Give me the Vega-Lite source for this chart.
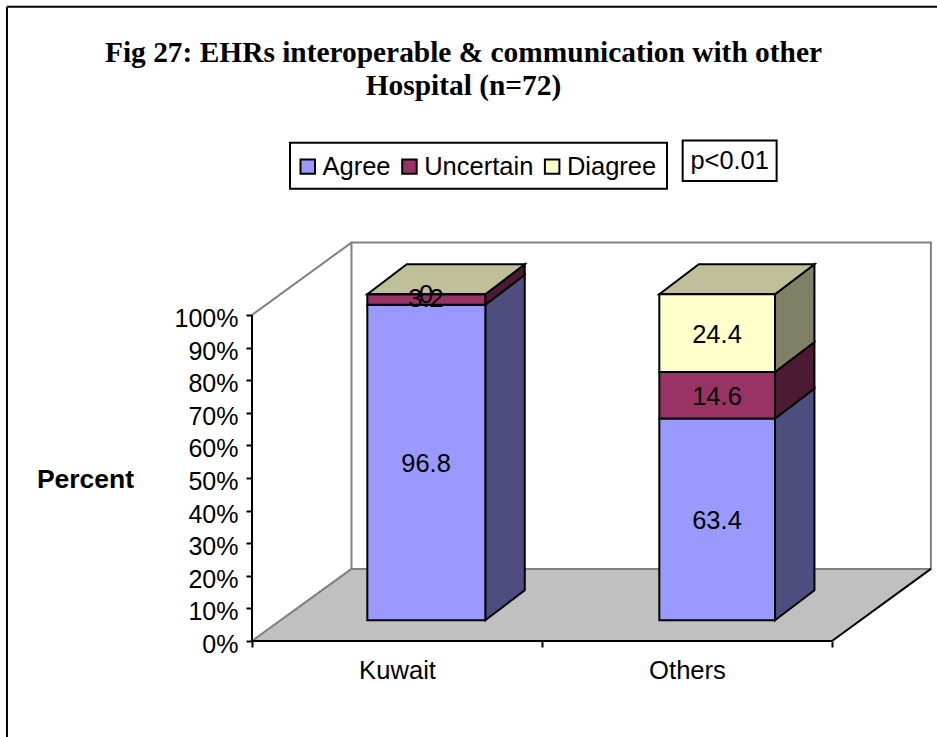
{"$schema":"https://vega.github.io/schema/vega-lite/v6.json","width":937,"height":737,"autosize":"none","padding":0,"background":"white","view":{"stroke":null},
"title":{"text":["Fig 27: EHRs interoperable & communication with other","Hospital (n=72)"],"font":"Liberation Serif","fontSize":29.4,"fontWeight":"bold","color":"black","anchor":"middle","baseline":"alphabetic","dx":-5,"dy":124,"offset":0,"lineHeight":33},
"datasets":{
"wall":[{"x":0.343,"x2":2.341,"low":22.1,"high":122.2}],
"floor":[{"level":0,"x":0,"x2":2},{"level":22.1,"x":0.343,"x2":2.341}],
"leftEdge":[{"edge":"floor","x":0,"y":0},{"edge":"floor","x":0.343,"y":22.1},{"edge":"top","x":0,"y":100},{"edge":"top","x":0.343,"y":122.2}],
"rightEdge":[{"x":2,"y":0},{"x":2.341,"y":22.1}],
"axisLines":[{"x":0,"x2":0,"y":0,"y2":100},{"x":0,"x2":2,"y":0,"y2":0}],
"front":[
{"category":"Kuwait","series":"Agree","x":0.3976,"x2":0.8045,"low":6.35,"high":103.15},
{"category":"Kuwait","series":"Uncertain","x":0.3976,"x2":0.8045,"low":103.15,"high":106.35},
{"category":"Kuwait","series":"Diagree","x":0.3976,"x2":0.8045,"low":106.35,"high":106.35},
{"category":"Others","series":"Agree","x":1.4045,"x2":1.8034,"low":6.35,"high":68.25},
{"category":"Others","series":"Uncertain","x":1.4045,"x2":1.8034,"low":68.25,"high":82.51},
{"category":"Others","series":"Diagree","x":1.4045,"x2":1.8034,"low":82.51,"high":106.35}],
"side":[
{"face":"K-A","series":"Agree","x":0.8045,"low":6.35,"high":103.15},{"face":"K-A","series":"Agree","x":0.9405,"low":15.55,"high":112.35},
{"face":"K-U","series":"Uncertain","x":0.8045,"low":103.15,"high":106.35},{"face":"K-U","series":"Uncertain","x":0.9405,"low":112.35,"high":115.55},
{"face":"O-A","series":"Agree","x":1.8034,"low":6.35,"high":68.25},{"face":"O-A","series":"Agree","x":1.9394,"low":15.55,"high":77.45},
{"face":"O-U","series":"Uncertain","x":1.8034,"low":68.25,"high":82.51},{"face":"O-U","series":"Uncertain","x":1.9394,"low":77.45,"high":91.71},
{"face":"O-D","series":"Diagree","x":1.8034,"low":82.51,"high":106.35},{"face":"O-D","series":"Diagree","x":1.9394,"low":91.71,"high":115.55}],
"top":[
{"category":"Kuwait","level":106.35,"x":0.3976,"x2":0.8045},{"category":"Kuwait","level":115.55,"x":0.5336,"x2":0.9405},
{"category":"Others","level":106.35,"x":1.4045,"x2":1.8034},{"category":"Others","level":115.55,"x":1.5405,"x2":1.9394}],
"labels":[
{"label":"96.8","x":0.6,"y":54.7},{"label":"3.2","x":0.6,"y":105.5},{"label":"0","x":0.6,"y":106.6},
{"label":"63.4","x":1.6034,"y":37.3},{"label":"14.6","x":1.6034,"y":75.3},{"label":"24.4","x":1.6034,"y":94.4}],
"pbox":[{"label":"p<0.01","x":1.485,"x2":1.809,"low":141.1,"high":153.5,"cx":1.647,"cy":147.4}],
"legendBox":[{"x":0.131,"x2":1.431,"low":138.7,"high":152.8}],
"border":[{"x":-0.845,"y":-29.45,"y2":194.5},{"x":-0.845,"x2":2.362,"y":194.5}]
},
"encoding":{},
"layer":[
{"data":{"name":"wall"},"mark":{"type":"rect","fill":"white","stroke":"#808080","strokeWidth":2},
"encoding":{"x":{"field":"x","type":"quantitative","scale":{"domain":[-0.869,2.362],"nice":false,"zero":false},
"axis":{"orient":"bottom","offset":-96,"domain":false,"grid":false,"title":null,"values":[0,0.5,1,1.5,2],"labelExpr":"datum.value==0.5?'Kuwait':(datum.value==1.5?'Others':'')","labelOverlap":false,"labelBound":false,"labelFlush":false,"labelFont":"Liberation Sans","labelFontSize":25.6,"labelColor":"black","labelPadding":11,"tickColor":"black","tickWidth":2,"tickSize":6,"tickOpacity":{"condition":{"test":"datum.value==0.5||datum.value==1.5","value":0},"value":1},"zindex":1}},
"x2":{"field":"x2"},
"y":{"field":"low","type":"quantitative","scale":{"domain":[-29.45,196.6],"nice":false,"zero":false},
"axis":{"orient":"left","offset":-252,"domain":false,"grid":false,"values":[0,10,20,30,40,50,60,70,80,90,100],"labelExpr":"datum.value+'%'","labelOverlap":false,"labelBound":false,"labelFlush":false,"labelFont":"Liberation Sans","labelFontSize":25,"labelColor":"black","labelPadding":8,"labelOffset":3.5,"tickColor":"black","tickWidth":2,"tickSize":6,"zindex":1,"title":"Percent","titleFont":"Liberation Sans","titleFontSize":26.5,"titleFontWeight":"bold","titleColor":"black","titleAngle":0,"titleAlign":"center","titleBaseline":"middle","titleX":-167,"titleY":479}},
"y2":{"field":"high"}}},
{"data":{"name":"floor"},"mark":{"type":"area","orient":"horizontal","fill":"#C0C0C0"},
"encoding":{"y":{"field":"level","type":"quantitative"},"x":{"field":"x","type":"quantitative"},"x2":{"field":"x2"}}},
{"data":{"name":"leftEdge"},"mark":{"type":"line","stroke":"#808080","strokeWidth":2},
"encoding":{"detail":{"field":"edge"},"x":{"field":"x","type":"quantitative"},"y":{"field":"y","type":"quantitative"}}},
{"data":{"name":"wall"},"mark":{"type":"rule","stroke":"#808080","strokeWidth":2},
"encoding":{"x":{"field":"x","type":"quantitative"},"x2":{"field":"x2"},"y":{"field":"low","type":"quantitative"}}},
{"data":{"name":"rightEdge"},"mark":{"type":"line","stroke":"black","strokeWidth":2},
"encoding":{"x":{"field":"x","type":"quantitative"},"y":{"field":"y","type":"quantitative"}}},
{"data":{"name":"axisLines"},"mark":{"type":"rule","stroke":"black","strokeWidth":2},
"encoding":{"x":{"field":"x","type":"quantitative"},"x2":{"field":"x2"},"y":{"field":"y","type":"quantitative"},"y2":{"field":"y2"}}},
{"data":{"name":"border"},"mark":{"type":"rule","stroke":"black","strokeWidth":2},
"encoding":{"x":{"field":"x","type":"quantitative"},"x2":{"field":"x2"},"y":{"field":"y","type":"quantitative"},"y2":{"field":"y2"}}},
{"data":{"name":"side"},"mark":{"type":"area","orient":"vertical","stroke":"black","strokeWidth":2},
"encoding":{"detail":{"field":"face"},"x":{"field":"x","type":"quantitative"},"y":{"field":"low","type":"quantitative"},"y2":{"field":"high"},
"color":{"field":"series","type":"nominal","legend":null,"scale":{"domain":["Agree","Uncertain","Diagree"],"range":["#4D4D80","#4D1A33","#808066"]}}}},
{"data":{"name":"top"},"mark":{"type":"area","orient":"horizontal","fill":"#BFBF99","stroke":"black","strokeWidth":2},
"encoding":{"detail":{"field":"category"},"y":{"field":"level","type":"quantitative"},"x":{"field":"x","type":"quantitative"},"x2":{"field":"x2"}}},
{"data":{"name":"legendBox"},"mark":{"type":"rect","fillOpacity":0,"stroke":"black","strokeWidth":2},
"encoding":{"x":{"field":"x","type":"quantitative"},"x2":{"field":"x2"},"y":{"field":"low","type":"quantitative"},"y2":{"field":"high"}}},
{"data":{"name":"front"},"mark":{"type":"rect","stroke":"black","strokeWidth":2},
"encoding":{"x":{"field":"x","type":"quantitative"},"x2":{"field":"x2"},"y":{"field":"low","type":"quantitative"},"y2":{"field":"high"},
"color":{"field":"series","type":"nominal","sort":null,"scale":{"domain":["Agree","Uncertain","Diagree"],"range":["#9999FF","#993366","#FFFFCC"]},
"legend":{"orient":"none","legendX":289,"legendY":147.5,"direction":"horizontal","columns":3,"title":null,"padding":6,"symbolType":"square","symbolSize":210,"symbolStrokeColor":"black","symbolStrokeWidth":2,"symbolOpacity":1,"labelFont":"Liberation Sans","labelFontSize":25.5,"labelColor":"black","labelLimit":200,"columnPadding":5.7,"labelOffset":2}}}},
{"data":{"name":"labels"},"mark":{"type":"text","font":"Liberation Sans","fontSize":25.5,"color":"black","baseline":"middle","align":"center","dy":1.5},
"encoding":{"x":{"field":"x","type":"quantitative"},"y":{"field":"y","type":"quantitative"},"text":{"field":"label"}}},
{"data":{"name":"pbox"},"mark":{"type":"rect","fill":"white","stroke":"black","strokeWidth":2},
"encoding":{"x":{"field":"x","type":"quantitative"},"x2":{"field":"x2"},"y":{"field":"low","type":"quantitative"},"y2":{"field":"high"}}},
{"data":{"name":"pbox"},"mark":{"type":"text","font":"Liberation Sans","fontSize":25.4,"color":"black","baseline":"middle","align":"center","dy":1},
"encoding":{"x":{"field":"cx","type":"quantitative"},"y":{"field":"cy","type":"quantitative"},"text":{"field":"label"}}}
],
"resolve":{"scale":{"color":"independent"}}
}
